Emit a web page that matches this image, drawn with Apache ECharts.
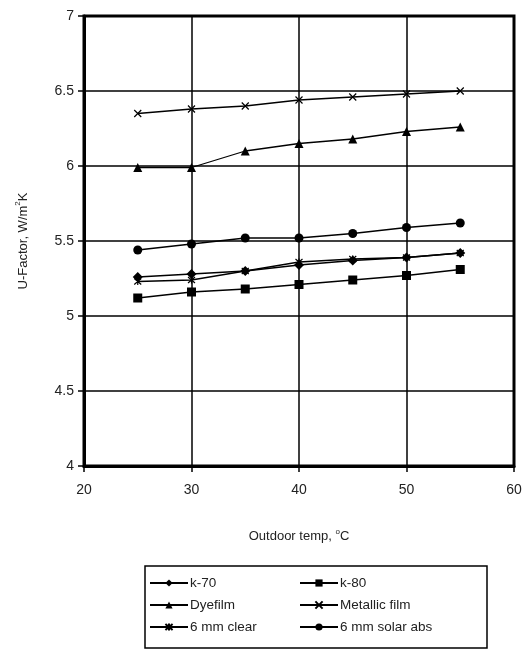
<!DOCTYPE html>
<html><head><meta charset="utf-8">
<script src="https://cdn.jsdelivr.net/npm/echarts@6/dist/echarts.min.js"></script>
<style>html,body{margin:0;padding:0;background:#fff}#c{width:527px;height:659px}</style>
</head><body><div id="c"></div>
<script>
const temps = [25, 30, 35, 40, 45, 50, 55];
const k70 = [5.26, 5.28, 5.30, 5.34, 5.37, 5.39, 5.42];
const k80 = [5.12, 5.16, 5.18, 5.21, 5.24, 5.27, 5.31];
const dyefilm = [5.99, 5.99, 6.10, 6.15, 6.18, 6.23, 6.26];
const metallic = [6.35, 6.38, 6.40, 6.44, 6.46, 6.48, 6.50];
const clear6 = [5.23, 5.24, 5.30, 5.36, 5.38, 5.39, 5.42];
const solar6 = [5.44, 5.48, 5.52, 5.52, 5.55, 5.59, 5.62];
const seriesNames = ['k-70', 'k-80', 'Dyefilm', 'Metallic film', '6 mm clear', '6 mm solar abs'];

const xPath = 'path://M0,0 L10,10 M10,0 L0,10';
const starPath = 'path://M0,0 L10,10 M10,0 L0,10 M5,-1 L5,11';
const font = 'Liberation Sans, Arial, sans-serif';

function mk(name, vals, symbol, size) {
  return {
    name: name, type: 'line', data: temps.map((t, i) => [t, vals[i]]),
    symbol: symbol, symbolSize: size,
    lineStyle: {color: '#000', width: 1.3},
    itemStyle: {color: '#000', borderColor: '#000', borderWidth: (symbol.startsWith('path') ? 1.2 : 0)},
    emphasis: {disabled: true}
  };
}
const chart = echarts.init(document.getElementById('c'));
chart.setOption({
  animation: false,
  backgroundColor: '#fff',
  grid: {left: 84, right: 13, top: 16, bottom: 193, show: true, borderColor: '#000', borderWidth: 3, backgroundColor: 'transparent'},
  xAxis: {
    type: 'value', min: 20, max: 60, interval: 10,
    name: 'Outdoor temp, {s|o}C', nameLocation: 'middle', nameGap: 62,
    nameTextStyle: {fontFamily: font, fontSize: 13, color: '#222', rich: {s: {fontSize: 8, verticalAlign: 'top', padding: [0, 0, 9, 0], fontFamily: font, color: '#222'}}},
    axisLine: {show: true, lineStyle: {color: '#000', width: 3}},
    axisTick: {show: true, length: 6, lineStyle: {color: '#000', width: 1.5}},
    axisLabel: {fontFamily: font, fontSize: 14, color: '#222', margin: 17},
    splitLine: {show: true, lineStyle: {color: '#000', width: 1.5}}
  },
  yAxis: {
    type: 'value', min: 4, max: 7, interval: 0.5,
    name: 'U-Factor, W/m{s|2}K', nameLocation: 'middle', nameGap: 52,
    nameTextStyle: {fontFamily: font, fontSize: 13, color: '#222', rich: {s: {fontSize: 8, verticalAlign: 'top', padding: [0, 0, 10, 0], fontFamily: font, color: '#222'}}},
    axisLine: {show: true, lineStyle: {color: '#000', width: 3}},
    axisTick: {show: true, length: 6, lineStyle: {color: '#000', width: 1.5}},
    axisLabel: {fontFamily: font, fontSize: 14, color: '#222', margin: 10},
    splitLine: {show: true, lineStyle: {color: '#000', width: 1.5}}
  },
  legend: [
    {data: [seriesNames[0], seriesNames[2], seriesNames[4]], orient: 'vertical', left: 144, top: 571, itemGap: 8, itemWidth: 38, itemHeight: 9,
     textStyle: {fontFamily: font, fontSize: 13.5, color: '#222', padding: [0, 0, 0, -3]}, selectedMode: false},
    {data: [seriesNames[1], seriesNames[3], seriesNames[5]], orient: 'vertical', left: 294, top: 571, itemGap: 8, itemWidth: 38, itemHeight: 9,
     textStyle: {fontFamily: font, fontSize: 13.5, color: '#222', padding: [0, 0, 0, -3]}, selectedMode: false}
  ],
  graphic: [{type: 'rect', shape: {x: 145, y: 566, width: 342, height: 82}, style: {fill: 'none', stroke: '#000', lineWidth: 1.5}}],
  series: [
    mk(seriesNames[0], k70, 'diamond', 10),
    mk(seriesNames[1], k80, 'rect', 9),
    mk(seriesNames[2], dyefilm, 'triangle', 9),
    mk(seriesNames[3], metallic, xPath, 7),
    mk(seriesNames[4], clear6, starPath, 7),
    mk(seriesNames[5], solar6, 'circle', 9)
  ]
});
</script></body></html>
